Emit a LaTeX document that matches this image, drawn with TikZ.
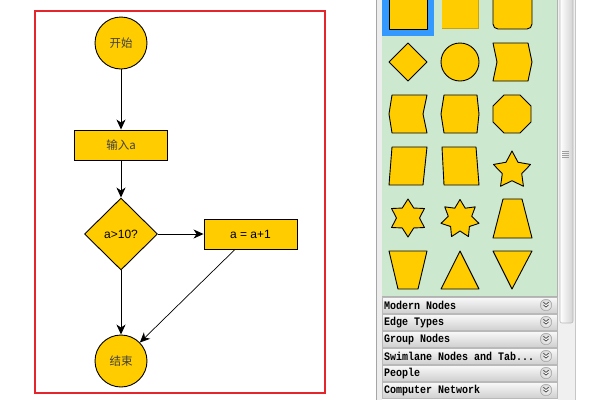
\documentclass[tikz,border=0pt]{standalone}
\usepackage{fontspec}
\setmainfont{Liberation Sans}
\setmonofont{Liberation Mono}
\newfontfamily\cjk{Noto Sans CJK SC}
\usetikzlibrary{shapes.geometric,arrows.meta,calc}
\definecolor{flowyellow}{HTML}{FFCC00}
\definecolor{framered}{HTML}{E5252C}
\definecolor{palgreen}{HTML}{CCE9CF}
\definecolor{selblue}{HTML}{3399FF}

\begin{document}
\begin{tikzpicture}[x=1pt,y=-1pt,
  flownode/.style={draw=black,fill=flowyellow,line width=0.9pt,inner sep=0pt,font=\fontsize{12}{14}\selectfont},
  termnode/.style={flownode,circle,minimum size=52pt,text=black!75,font=\cjk\fontsize{11.5}{14}\selectfont},
  procnode/.style={flownode,rectangle,minimum width=93pt,minimum height=30pt},
  decnode/.style={flownode,diamond,minimum width=73pt,minimum height=72pt},
  flowarrow/.style={line width=0.9pt,-{Stealth[length=10pt,width=9pt,inset=3pt]}},
  palshape/.style={draw=black,fill=flowyellow,line width=0.9pt,line join=round},
  headrow/.style={top color=white!96!gray,bottom color=gray!38,draw=gray!55,line width=0.4pt}]
\useasboundingbox (0,0) rectangle (600,400);
\fill[white] (0,0) rectangle (600,400);

% flow chart
\draw[framered,line width=1.3pt] (35,11) rectangle (325,393);
\node[termnode] (start) at (121,43) {开始};
\node[procnode,font=\cjk\fontsize{11.5}{14}\selectfont,text=black!75] (input) at (121,145) {输入a};
\node[decnode] (check) at (121,234) {a>10?};
\node[procnode] (calc) at (250.5,234) {a = a+1};
\node[termnode] (stop) at (121,361) {结束};
\draw[flowarrow] (start) -- (input);
\draw[flowarrow] (input) -- (check);
\draw[flowarrow] (check) -- (calc);
\draw[flowarrow] (check) -- (stop);
\coordinate (calcfoot) at ($(calc.south west)!0.335!(calc.south east)$);
\draw[flowarrow,line width=0.7pt] (calcfoot) -- (stop);

% palette panel
\fill[gray!14] (376,0) rectangle (382,400);
\draw[gray!70,line width=0.8pt] (376,0) -- (376,400);
\begin{scope}
\clip (382,0) rectangle (557,296);
\fill[palgreen] (382,0) rectangle (557,296);
\fill[selblue] (382,-5) rectangle (434,36);
\draw[palshape] (389,-9) rectangle (427,29);
\fill[flowyellow!80!black] (442,-9) rectangle (479,29);
\fill[flowyellow] (442,-9) rectangle (478,28);
\draw[palshape,rounded corners=5pt] (493,-9) rectangle (532,29);
% row 2
\draw[palshape] (408,43) -- (427,62) -- (408,81) -- (389,62) -- cycle;
\draw[palshape] (460,62) circle (19pt);
\draw[palshape] (493,43) -- (528,43) -- (532,62) -- (528,81) -- (493,81) -- (497,62) -- cycle;
% row 3
\draw[palshape] (392,95) -- (427,95) -- (423,114) -- (427,133) -- (392,133) -- (389,114) -- cycle;
\draw[palshape] (444,95) -- (477,95) -- (479,114) -- (477,133) -- (444,133) -- (441,114) -- cycle;
\draw[palshape,shift={(512,114)}] (22.5:20.6) \foreach \a in {67.5,112.5,...,337.5} {-- (\a:20.6)} -- cycle;
% row 4
\draw[palshape] (392,147) -- (427,147) -- (423,185) -- (389,185) -- cycle;
\draw[palshape] (442,147) -- (476,147) -- (479,185) -- (444,185) -- cycle;
\draw[palshape,shift={(512,170.5)}] (-90:19.5) \foreach \k in {1,...,5} {-- ({-90+36*(2*\k-1)}:10.2) -- ({-90+72*\k}:19.5)} -- cycle;
% row 5
\draw[palshape,shift={(408,218)}] (-90:19) \foreach \k in {1,...,6} {-- ({-90+30*(2*\k-1)}:11.5) -- ({-90+60*\k}:19)} -- cycle;
\draw[palshape,shift={(460,219)}] (-90:19.5) \foreach \k in {1,...,7} {-- ({-90+180/7*(2*\k-1)}:12) -- ({-90+360/7*\k}:19.5)} -- cycle;
\draw[palshape] (503,199) -- (522,199) -- (532,238) -- (493,238) -- cycle;
% row 6
\draw[palshape] (389,251) -- (427,251) -- (418,289) -- (398,289) -- cycle;
\draw[palshape] (460,251) -- (479,289) -- (441,289) -- cycle;
\draw[palshape] (493,251) -- (532,251) -- (512,289) -- cycle;
\end{scope}
\draw[gray!60,line width=0.8pt] (382,296) -- (557.5,296) -- (557.5,0);

% category rows
\foreach \lbl [count=\i from 0] in {Modern Nodes,Edge Types,Group Nodes,{Swimlane Nodes and Tab{.}..},People,Computer Network} {
  \pgfmathsetmacro\ytop{297+17*\i}
  \shade[headrow] (382,\ytop) rectangle (557,\ytop+16.5);
  \node[anchor=west,inner sep=0pt,xscale=0.87,transform shape,font=\ttfamily\bfseries\fontsize{11.5}{13}\selectfont] (head\i) at (384,\ytop+8.5) {\lbl};
  \node[circle,draw=gray!80,inner color=white,outer color=gray!35,minimum size=11.5pt,inner sep=0pt] (chev\i) at (546,\ytop+8) {};
  \draw[gray!55!black,line width=0.7pt] ($(chev\i)+(-2.6,-2.8)$) -- ($(chev\i)+(0,-0.6)$) -- ($(chev\i)+(2.6,-2.8)$)
    ($(chev\i)+(-2.6,-0.1)$) -- ($(chev\i)+(0,2.1)$) -- ($(chev\i)+(2.6,-0.1)$);
}

% scroll bar
\fill[gray!12] (558,0) rectangle (575,400);
\draw[gray!45,line width=0.6pt] (575,0) -- (575,400);
\draw[gray!55,left color=white,right color=gray!35,rounded corners=2pt,line width=0.6pt] (560,-4) rectangle (573,323);
\foreach \gy in {151,153,155,157} \draw[gray!75,line width=0.8pt] (562,\gy) -- (569,\gy);
\end{tikzpicture}
\end{document}
